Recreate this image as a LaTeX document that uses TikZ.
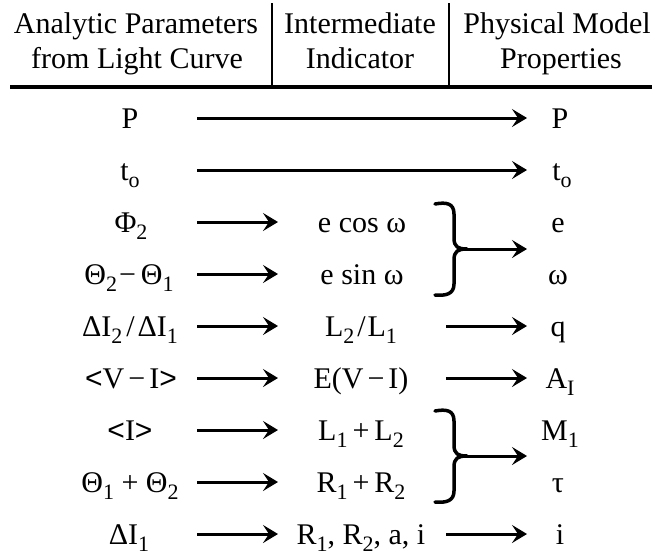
\documentclass[tikz,border=0pt]{standalone}
\usepackage{fontspec}
\setmainfont{Liberation Serif}
\newfontfamily\arialf{Liberation Sans}
\usetikzlibrary{arrows.meta}
\newcommand{\lsub}[1]{\raisebox{-7.5pt}{\fontsize{22}{22}\selectfont #1}}
\newcommand{\ltsym}{{\arialf <}}
\newcommand{\gtsym}{{\arialf >}}
\begin{document}
\begin{tikzpicture}[x=1pt,y=-1pt,
  font=\fontsize{30}{35}\selectfont,
  hdr/.style={anchor=base, inner sep=0pt},
  txt/.style={text height=20pt, text depth=0pt, inner sep=0pt},
  arr/.style={line width=3pt, -{Stealth[length=15pt,width=18pt,inset=6pt]}},
  bracepath/.style={line width=3.5pt, line cap=round, line join=round},
  rulel/.style={line width=3.5pt},
  divl/.style={line width=2.5pt}]
\path[use as bounding box] (0,0) rectangle (652,554);
% header
\node[hdr] (h1a) at (136,33) {Analytic Parameters};
\node[hdr] (h1b) at (137,68) {from Light Curve};
\node[hdr] (h2a) at (360,33) {Intermediate};
\node[hdr] (h2b) at (360,68) {Indicator};
\node[hdr, anchor=base east] (h3a) at (651,33) {Physical Model};
\node[hdr] (h3b) at (561,68) {Properties};
\coordinate (rs) at (10,87);
\coordinate (re) at (652,87);
\draw[rulel] (rs) -- (re);
\coordinate (d1t) at (272,3);
\coordinate (d2t) at (449,3);
\draw[divl] (d1t) -- (d1t |- rs);
\draw[divl] (d2t) -- (d2t |- rs);
% column x positions for arrows
\coordinate (xa) at (197,0);
\coordinate (xb) at (278,0);
\coordinate (xc) at (446,0);
\coordinate (xd) at (527,0);
% left column
\node[txt] (L1) at (130,118) {P};
\node[txt] (L2) at (130,170) {t\lsub{o}};
\node[txt] (L3) at (131,222) {Φ\lsub{2}};
\node[txt] (L4) at (129,274) {Θ\lsub{2}\hspace{2pt}−\hspace{5pt}Θ\lsub{1}};
\node[txt] (L5) at (130,326) {ΔI\lsub{2}\hspace{4pt}/\hspace{3pt}ΔI\lsub{1}};
\node[txt] (L6) at (131,378) {\ltsym V\hspace{4pt}−\hspace{4pt}I\gtsym};
\node[txt] (L7) at (130,430) {\ltsym I\gtsym};
\node[txt] (L8) at (130,482) {Θ\lsub{1} + Θ\lsub{2}};
\node[txt] (L9) at (129,534) {ΔI\lsub{1}};
% middle column
\node[txt] (M3) at (362,222) {e cos ω};
\node[txt] (M4) at (362,274) {e sin ω};
\node[txt] (M5) at (361,326) {L\lsub{2}\hspace{3pt}/\hspace{2pt}L\lsub{1}};
\node[txt] (M6) at (361,378) {E(V\hspace{4pt}−\hspace{4pt}I)};
\node[txt] (M7) at (361,430) {L\lsub{1}\hspace{5pt}+\hspace{5pt}L\lsub{2}};
\node[txt] (M8) at (361,482) {R\lsub{1}\hspace{5pt}+\hspace{5pt}R\lsub{2}};
\node[txt] (M9) at (361,534) {R\lsub{1}, R\lsub{2}, a, i};
% right column
\node[txt] (R1) at (560,118) {P};
\node[txt] (R2) at (562,170) {t\lsub{o}};
\node[txt] (R3) at (558,222) {e};
\node[txt] (R4) at (558,274) {ω};
\node[txt] (R5) at (558,326) {q};
\node[txt] (R6) at (560,378) {A\lsub{I}};
\node[txt] (R7) at (560,430) {M\lsub{1}};
\node[txt] (R8) at (558,482) {τ};
\node[txt] (R9) at (560,534) {i};
% long arrows
\draw[arr] (L1 -| xa) -- (R1 -| xd);
\draw[arr] (L2 -| xa) -- (R2 -| xd);
% left to middle
\foreach \i in {3,...,9} {\draw[arr] (L\i -| xa) -- (M\i -| xb);}
% middle to right
\foreach \i in {5,6,9} {\draw[arr] (M\i -| xc) -- (R\i -| xd);}
% braces
\coordinate (c1) at (467,249);
\draw[bracepath] (435,204) .. controls (446,202) and (454,203) .. (454,214) -- (454,238)
   .. controls (454,247) and (458,249) .. (c1) .. controls (458,249) and (454,251) .. (454,260) -- (454,284)
   .. controls (454,294) and (446,296) .. (435,295);
\draw[arr] (c1) -- (c1 -| xd);
\coordinate (c2) at (467,456);
\draw[bracepath] (435,411) .. controls (446,409) and (454,410) .. (454,421) -- (454,445)
   .. controls (454,454) and (458,456) .. (c2) .. controls (458,456) and (454,458) .. (454,467) -- (454,491)
   .. controls (454,501) and (446,503) .. (435,502);
\draw[arr] (c2) -- (c2 -| xd);
\end{tikzpicture}
\end{document}
